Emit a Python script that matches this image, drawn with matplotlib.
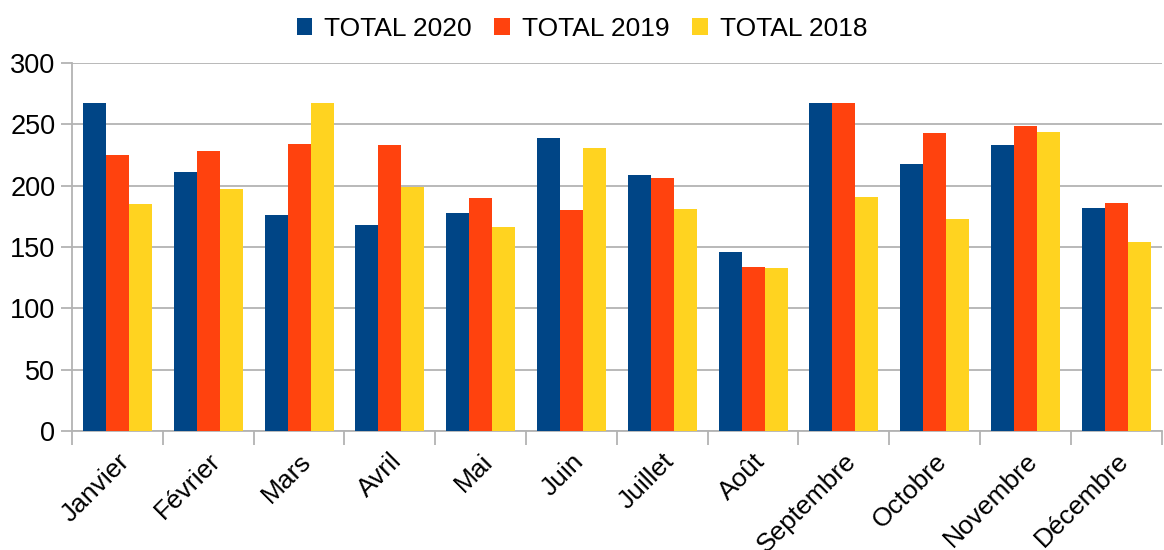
import matplotlib
matplotlib.use("Agg")
import matplotlib.pyplot as plt
import numpy as np

months = ["Janvier", "Février", "Mars", "Avril", "Mai", "Juin", "Juillet",
          "Août", "Septembre", "Octobre", "Novembre", "Décembre"]
total_2020 = [267, 211, 176, 168, 178, 239, 209, 146, 267, 218, 233, 182]
total_2019 = [225, 228, 234, 233, 190, 180, 206, 134, 267, 243, 249, 186]
total_2018 = [185, 197, 267, 199, 166, 231, 181, 133, 191, 173, 244, 154]
series_names = ["TOTAL 2020", "TOTAL 2019", "TOTAL 2018"]
colors = ["#004586", "#ff420e", "#ffd320"]
yticks = [0, 50, 100, 150, 200, 250, 300]

plt.rcParams['font.family'] = ['Liberation Sans', 'DejaVu Sans']

fig = plt.figure(figsize=(11.64, 5.5), dpi=100)
ax = fig.add_axes([0.0619, 0.2164, 0.9361, 0.6691])

x = np.arange(len(months))
w = 0.253
for i, (vals, name, c) in enumerate(zip([total_2020, total_2019, total_2018], series_names, colors)):
    ax.bar(x + (i - 1) * w, vals, width=w, color=c, label=name, zorder=3)

ax.set_xlim(-0.5, len(months) - 0.5)
ax.set_ylim(0, 300)
ax.set_yticks(yticks)
ax.yaxis.grid(True, color="#b3b3b3", linewidth=1.3, zorder=0)
ax.tick_params(axis='y', labelsize=19.5, length=8, color="#b3b3b3", width=1.3, pad=4)

ax.set_xticks(np.arange(-0.5, len(months), 1.0))
ax.set_xticklabels([])
ax.tick_params(axis='x', which='major', length=10, color="#b3b3b3", width=1.3)
ax.set_xticks(x, minor=True)
ax.set_xticklabels(months, minor=True, rotation=45, ha='right', rotation_mode='anchor', fontsize=19)
ax.tick_params(axis='x', which='minor', length=0, pad=13)

for s in ['top', 'right']:
    ax.spines[s].set_visible(False)
for s in ['left', 'bottom']:
    ax.spines[s].set_color("#b3b3b3")
    ax.spines[s].set_linewidth(1.3)

leg = fig.legend(loc='upper center', bbox_to_anchor=(0.5, 1.012), ncol=3, frameon=False,
                 fontsize=19, handlelength=0.6, handleheight=0.6, handletextpad=0.45,
                 columnspacing=0.85)

fig.savefig("out.png", dpi=100)
